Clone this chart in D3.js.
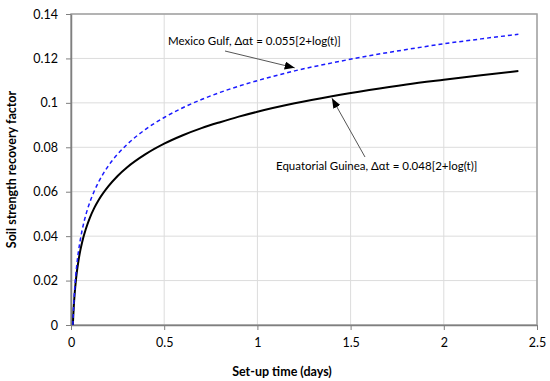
<!DOCTYPE html>
<html>
<head>
<meta charset="utf-8">
<script src="https://cdnjs.cloudflare.com/ajax/libs/d3/7.8.5/d3.min.js"></script>
<style>
  body { margin: 0; background: #fff; }
  text { font-family: Lato, "Open Sans", sans-serif; }
</style>
</head>
<body>
<script>
// set-up time (days)
var days = [0.01, 0.012, 0.015, 0.02, 0.025, 0.03, 0.04, 0.05, 0.06, 0.08, 0.1, 0.125, 0.15, 0.2, 0.25,
            0.3, 0.4, 0.5, 0.6, 0.7, 0.8, 0.9, 1.0, 1.2, 1.4, 1.6, 1.8, 2.0, 2.2, 2.4];
// Mexico Gulf (blue dashed)
var mexicoGulf = [0, 0.0044, 0.0097, 0.0166, 0.0219, 0.0262, 0.0331, 0.0384, 0.0428, 0.0497, 0.055, 0.0603, 0.0647, 0.0716, 0.0769,
                  0.0812, 0.0881, 0.0934, 0.0978, 0.1015, 0.1047, 0.1075, 0.11, 0.1144, 0.118, 0.1212, 0.124, 0.1266, 0.1288, 0.1309];
// Equatorial Guinea (black solid)
var eqGuinea = [0, 0.0038, 0.0085, 0.0144, 0.0191, 0.0229, 0.0289, 0.0336, 0.0374, 0.0433, 0.048, 0.0527, 0.0565, 0.0624, 0.0671,
                0.0709, 0.0769, 0.0816, 0.0854, 0.0886, 0.0913, 0.0938, 0.096, 0.0998, 0.103, 0.1058, 0.1083, 0.1104, 0.1124, 0.1143];

var xTicks = [0, 0.5, 1, 1.5, 2, 2.5];
var yTicks = [0, 0.02, 0.04, 0.06, 0.08, 0.1, 0.12, 0.14];
var xTitle = "Set-up time (days)";
var yTitle = "Soil strength recovery factor";
var labelMexico = "Mexico Gulf, \u0394\u03b1t = 0.055[2+log(t)]";
var labelGuinea = "Equatorial Guinea, \u0394\u03b1t = 0.048[2+log(t)]";

var width = 550,
    height = 381,
    padL = 71, padR = 537, padT = 14, padB = 325;

var svg = d3.select("body").append("svg")
    .attr("width", width)
    .attr("height", height);

var defs = svg.append("defs");
defs.append("marker")
    .attr("id", "arrow")
    .attr("markerWidth", 10)
    .attr("markerHeight", 8)
    .attr("viewBox", "0 0 10 8")
    .attr("refX", 10)
    .attr("refY", 4)
    .attr("orient", "auto")
    .attr("markerUnits", "userSpaceOnUse")
    .append("path")
    .attr("d", "M0,0 L10,4 L0,8 Z")
    .attr("fill", "#000");

var xScale = d3.scaleLinear().domain([0, 2.5]).range([padL, padR]);
var yScale = d3.scaleLinear().domain([0, 0.14]).range([padB, padT]);

// grid
svg.append("g").selectAll("line")
    .data(yTicks.slice(1))
    .enter().append("line")
    .attr("x1", padL).attr("x2", padR)
    .attr("y1", d => yScale(d)).attr("y2", d => yScale(d))
    .attr("stroke", "#dcdcdc").attr("stroke-width", 1);
svg.append("g").selectAll("line")
    .data(xTicks.slice(1))
    .enter().append("line")
    .attr("x1", d => xScale(d)).attr("x2", d => xScale(d))
    .attr("y1", padT).attr("y2", padB)
    .attr("stroke", "#dcdcdc").attr("stroke-width", 1);

// plot border
svg.append("rect")
    .attr("x", padL).attr("y", padT)
    .attr("width", padR - padL).attr("height", padB - padT)
    .attr("fill", "none")
    .attr("stroke", "#a0a0a0")
    .attr("stroke-width", 1.5);

var xAxis = d3.axisBottom(xScale).tickValues(xTicks).tickFormat(d3.format("")).tickSize(5).tickSizeOuter(0).tickPadding(8);
var yAxis = d3.axisLeft(yScale).tickValues(yTicks).tickFormat(d3.format("")).tickSize(5).tickSizeOuter(0).tickPadding(8);

var gx = svg.append("g")
    .attr("transform", "translate(0," + padB + ")")
    .call(xAxis);
var gy = svg.append("g")
    .attr("transform", "translate(" + padL + ",0)")
    .call(yAxis);

[gx, gy].forEach(function (g)
{
    g.select(".domain").attr("stroke", "#7f7f7f").attr("stroke-width", 1.5);
    g.selectAll(".tick line").attr("stroke", "#7f7f7f");
    g.selectAll(".tick text")
        .attr("fill", "#000")
        .style("font-family", "Lato, sans-serif")
        .style("font-size", "12.5px");
});

// curves
var line = d3.line()
    .x((d, i) => xScale(days[i]))
    .y(d => yScale(d))
    .curve(d3.curveMonotoneX);

svg.append("path")
    .attr("d", line(eqGuinea))
    .attr("fill", "none")
    .attr("stroke", "#000")
    .attr("stroke-width", 2);

svg.append("path")
    .attr("d", line(mexicoGulf))
    .attr("fill", "none")
    .attr("stroke", "#1a1aff")
    .attr("stroke-width", 1.5)
    .attr("stroke-dasharray", "4,3");

// axis titles
svg.append("text")
    .attr("x", 282)
    .attr("y", 376)
    .attr("text-anchor", "middle")
    .style("font-size", "12.5px")
    .style("font-weight", "bold")
    .text(xTitle);

svg.append("text")
    .attr("transform", "translate(16," + ((padT + padB) / 2) + ") rotate(-90)")
    .attr("text-anchor", "middle")
    .style("font-size", "12.5px")
    .style("font-weight", "bold")
    .text(yTitle);

// annotations
svg.append("text")
    .attr("x", 168)
    .attr("y", 45)
    .style("font-size", "11.5px")
    .text(labelMexico);
svg.append("line")
    .attr("x1", 225).attr("y1", 51)
    .attr("x2", xScale(1.2)).attr("y2", yScale(0.1144) - 3)
    .attr("stroke", "#555")
    .attr("stroke-width", 1)
    .attr("marker-end", "url(#arrow)");

svg.append("text")
    .attr("x", 276)
    .attr("y", 170)
    .style("font-size", "11.5px")
    .text(labelGuinea);
svg.append("line")
    .attr("x1", 365).attr("y1", 157)
    .attr("x2", xScale(1.4)).attr("y2", yScale(0.103) + 2)
    .attr("stroke", "#555")
    .attr("stroke-width", 1)
    .attr("marker-end", "url(#arrow)");
</script>
</body>
</html>
